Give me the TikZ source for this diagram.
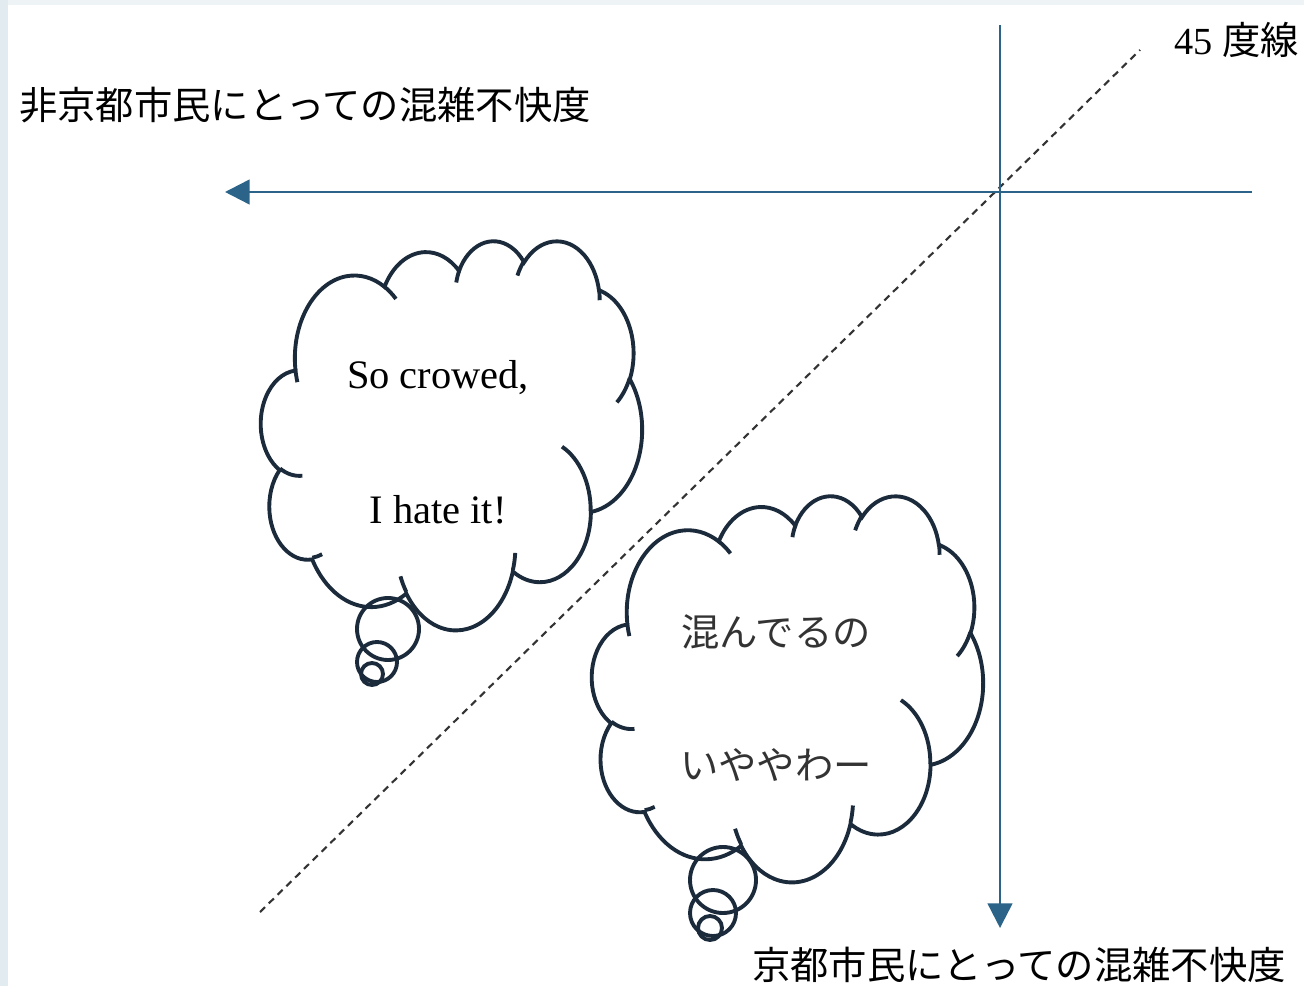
\documentclass[tikz,border=0pt]{standalone}
\usepackage{fontspec}
\setmainfont{Liberation Serif}
\newfontfamily\jp{Noto Sans CJK JP}
\usetikzlibrary{arrows.meta,
  positioning
}
\definecolor{axisblue}{HTML}{2B6488}
\definecolor{cloudink}{HTML}{1B2B3C}
\definecolor{frameleft}{HTML}{E2EBF0}
\definecolor{frametop}{HTML}{EEF3F6}

\tikzstyle{axis} = [line width=0.7pt, axisblue, -{Triangle[length=7pt,width=7pt]}]
\tikzstyle{diag} = [line width=0.6pt, black!80, dash pattern=on 2pt off 1.5pt]
\tikzstyle{cloudline} = [line width=1.1pt, cloudink]
\tikzstyle{jlabel} = [font=\jp\fontsize{10.9}{13}\selectfont, inner sep=0pt]
\tikzstyle{jsay} = [font=\jp\fontsize{10.9}{13}\selectfont, inner sep=0pt, black!80]
\tikzstyle{esay} = [font=\fontsize{11.5}{14}\selectfont, inner sep=0pt]

% angle on the ellipse (wR, hR) -> parameter of the arc
\pgfmathdeclarefunction{para}{3}{%
  \pgfmathparse{#1+mod(atan2(#2*sin(#1),#3*cos(#1))-(#1)+3780,360)-180}}
\tikzset{puff/.style n args={4}{insert path={arc[start angle={para(#3,#1,#2)},
      end angle={para(#3+#4,#1,#2)}, x radius=#1, y radius=#2]}}}

% cloud in the box at (#1,#2), width #3, height #4
\newcommand\kumo[4]{%
  \begin{scope}[shift={(#1,#2)}, xscale=#3/43.2, yscale=#4/43.2]
    \draw[cloudline, fill=white] (3.9,14.37)
      [puff={6.753}{9.19}{-190.4875}{123.7805}]
      [puff={5.333}{7.267}{-144.1024}{89.9452}]
      [puff={4.365}{5.945}{-145.8079}{99.7230}]
      [puff={4.857}{6.595}{-130.9861}{117.2417}]
      [puff={5.333}{7.273}{-78.7089}{109.0269}]
      [puff={6.775}{9.22}{-46.2673}{130.2690}]
      [puff={5.785}{7.867}{0.6250}{114.0333}]
      [puff={6.752}{9.215}{22.4516}{115.1726}]
      [puff={7.72}{10.543}{66.2426}{75.7110}]
      [puff={4.36}{5.918}{-274.9421}{146.7356}]
      [puff={4.345}{5.945}{-246.8285}{152.5189}] -- cycle;
    \draw[cloudline]
      (4.693,26.177) [puff={4.345}{5.945}{86.742}{26.4295}]
      (6.928,34.899) [puff={4.36}{5.918}{73.6105}{11.4475}]
      (16.478,39.09) [puff={6.752}{9.215}{137.6242}{14.0811}]
      (28.827,34.751) [puff={6.752}{9.215}{6.4533}{15.9984}]
      (34.129,22.954) [puff={5.785}{7.867}{-70.2924}{70.9174}]
      (41.798,15.354) [puff={5.333}{7.273}{30.318}{27.7515}]
      (38.324,5.426) [puff={4.857}{6.595}{-13.7443}{14.8589}]
      (29.078,3.952) [puff={4.857}{6.595}{-149.1815}{18.1954}]
      (22.141,4.72) [puff={4.365}{5.945}{-163.4943}{17.6864}]
      (14,5.192) [puff={6.753}{9.19}{-66.707}{12.3194}]
      (4.127,15.789) [puff={6.753}{9.19}{157.6544}{11.8582}];
  \end{scope}}

\begin{document}
\begin{tikzpicture}[x=0.01cm, y=-0.01cm]
  \useasboundingbox (0,0) rectangle (1304,986);
  \fill[frametop] (0,0) rectangle (1304,986);
  \fill[frameleft] (0,0) rectangle (8,986);
  \fill[white] (8,5) rectangle (1304,986);

  \coordinate (origin) at (1000,192);
  \coordinate (xstart) at (1252,192);
  \coordinate (xend) at (225,192);
  \coordinate (ystart) at (1000,25);
  \coordinate (yend) at (1000,928);
  \coordinate (dlow) at (260,912);
  \coordinate (dhigh) at (1140,50);

  \draw[diag] (dlow) -- (dhigh);
  \draw[axis] (xstart) -- (xend);
  \draw[axis] (ystart) -- (yend);

  \node[jlabel] (xlab) at (305,105) {非京都市民にとっての混雑不快度};
  \node[jlabel] (ylab) at (1019,965) {京都市民にとっての混雑不快度};
  \node[inner sep=0pt, font=\fontsize{10.9}{13}\selectfont] (dlab) at (1237,40) {45 {\jp 度線}};

  % left cloud
  \kumo{261}{240}{381}{389}
  \foreach \x/\y/\r in {388/629/31, 377/662/20, 372/674/11} {
    \draw[cloudline] (\x,\y) circle[radius=\r];
  }
  \node[esay] (say1) at (438,378) {So crowed,};
  \node[esay] (say2) at (438,510) {I hate it!};

  % right cloud
  \kumo{592}{495}{391}{386}
  \foreach \x/\y/\r in {723/880/33, 713/913/23, 710/928/12} {
    \draw[cloudline] (\x,\y) circle[radius=\r];
  }
  \node[jsay] (iu1) at (776,632) {混んでるの};
  \node[jsay] (iu2) at (776,765) {いややわー};
\end{tikzpicture}
\end{document}
